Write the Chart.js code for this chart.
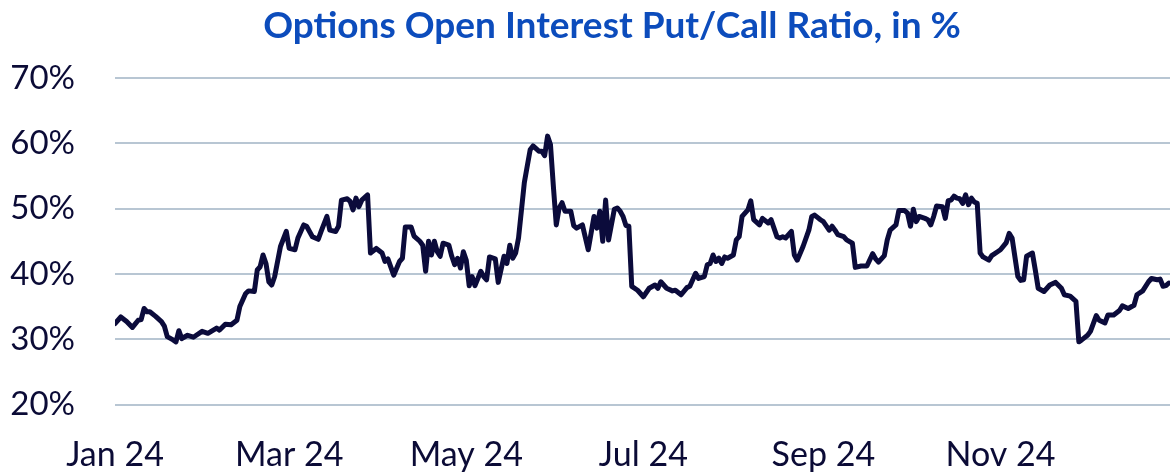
<!DOCTYPE html>
<html>
<head>
<meta charset="utf-8">
<script src="https://cdn.jsdelivr.net/npm/chart.js@4.4.1/dist/chart.umd.min.js"></script>
<style>
  html, body { margin: 0; padding: 0; background: #ffffff; }
  #wrap { width: 1170px; height: 474px; position: relative; }
</style>
</head>
<body>
<div id="wrap"><canvas id="c" width="1170" height="474"></canvas></div>
<script>
// Chart content
const chartTitle = 'Options Open Interest Put/Call Ratio, in %';
// day offsets from 1 Jan 2024
const dayOffsets = [0,2,4,6,8,9,10,11,12,14,16,17,18,20,21,22,23,25,27,28,30,32,35,36,38,40,42,43,45,46,48,49,50,51,52,53,54,55,57,59,60,62,63,65,66,68,70,71,73,74,76,77,78,80,81,82,83,84,85,87,88,90,92,93,94,96,98,99,100,102,103,105,106,107,108,109,110,111,112,113,115,116,117,118,119,120,121,122,123,124,126,127,128,129,131,132,134,135,136,137,138,139,141,142,143,144,146,147,148,149,150,151,152,153,154,155,157,158,159,161,163,165,166,167,168,169,170,172,173,174,175,176,177,178,180,182,184,186,187,188,190,192,193,195,197,198,200,201,203,204,205,206,207,208,209,210,211,213,214,215,216,217,218,219,220,222,223,225,226,228,229,230,231,233,234,235,237,239,240,241,243,244,246,247,248,249,251,252,254,255,257,259,261,262,263,265,266,267,269,270,272,273,274,275,276,277,279,280,281,282,283,285,286,287,288,289,290,291,292,293,294,295,296,297,298,299,301,302,304,305,307,308,309,311,312,313,314,316,317,318,320,322,324,326,327,329,331,332,333,335,336,338,339,341,342,344,346,347,349,351,352,354,356,357,359,360,361,362,363];
// put/call ratio, %
const putCallRatio = [32.4,33.4,32.7,31.8,32.9,33.0,34.7,34.2,34.2,33.5,32.7,32.0,30.4,29.9,29.6,31.3,30.1,30.6,30.3,30.6,31.2,30.9,31.7,31.4,32.3,32.2,32.9,35.0,37.0,37.4,37.3,40.6,41.1,42.9,41.6,38.8,38.3,39.6,44.2,46.5,43.9,43.7,45.5,47.5,47.3,45.7,45.3,46.5,48.8,46.7,46.5,47.3,51.3,51.5,51.1,49.8,51.6,50.3,51.3,52.1,43.2,43.9,43.2,41.9,42.3,39.8,41.9,42.4,47.2,47.2,45.8,45.0,44.4,40.4,45.0,42.9,45.0,43.4,42.7,44.7,44.4,42.7,41.4,42.4,40.9,43.4,42.1,38.2,39.6,38.2,40.4,39.6,39.1,42.6,42.3,38.7,42.7,41.6,44.4,42.4,43.2,45.5,54.0,56.5,59.0,59.6,58.8,58.8,58.1,61.1,59.8,53.4,47.5,50.1,50.9,49.6,49.6,47.4,47.0,47.5,43.7,48.8,47.0,49.6,45.0,51.3,45.2,49.9,50.1,49.6,48.8,47.4,47.3,38.1,37.5,36.5,37.8,38.3,37.8,38.8,37.8,37.4,37.5,36.8,37.9,38.1,40.1,39.3,39.6,41.4,41.6,42.9,41.9,42.4,41.6,42.6,42.4,42.9,45.2,45.7,48.8,49.3,49.8,51.2,48.3,47.5,48.5,47.8,48.3,45.7,45.5,45.7,45.5,46.5,42.9,42.1,44.2,46.7,48.8,49.0,48.3,48.0,46.7,47.3,46.7,46.0,45.7,45.2,44.7,41.0,41.2,41.2,43.1,42.3,41.8,42.8,45.2,46.7,47.5,49.7,49.7,49.3,47.3,49.9,48.0,48.8,48.5,48.3,47.5,48.8,50.4,50.3,48.5,51.2,51.3,51.9,51.6,51.5,50.8,52.1,50.6,51.6,51.0,50.8,43.2,42.6,42.1,42.8,43.4,43.7,44.8,46.2,45.5,39.6,39.0,39.1,42.7,43.2,40.6,37.8,37.3,38.3,38.7,37.8,36.8,36.6,35.8,29.6,29.9,30.6,31.2,33.6,32.9,32.5,33.7,33.7,34.4,35.1,34.7,35.2,36.8,37.4,38.8,39.3,39.1,39.2,38.1,38.2,38.6];
// x tick labels and their day offsets
const xTickDays = [0, 60, 121, 182, 244, 305];
const xTickLabels = ['Jan 24', 'Mar 24', 'May 24', 'Jul 24', 'Sep 24', 'Nov 24'];
const yTickValues = [20, 30, 40, 50, 60, 70];

const points = dayOffsets.map((d, i) => ({ x: d, y: putCallRatio[i] }));

const titlePlugin = {
  id: 'centerTitle',
  afterDraw(chart) {
    const ctx = chart.ctx;
    ctx.save();
    ctx.font = 'bold 37px Lato';
    ctx.fillStyle = '#0C4CBC';
    ctx.textAlign = 'center';
    ctx.textBaseline = 'alphabetic';
    ctx.fillText(chartTitle, 612, 38);
    ctx.restore();
  }
};

new Chart(document.getElementById('c'), {
  type: 'line',
  data: {
    datasets: [{
      data: points,
      borderColor: '#0B0B3B',
      borderWidth: 5,
      pointRadius: 0,
      tension: 0,
      borderJoinStyle: 'round',
      borderCapStyle: 'round',
      fill: false
    }]
  },
  options: {
    responsive: false,
    animation: false,
    events: [],
    layout: { padding: { top: 78, right: 0, bottom: 0, left: 0 } },
    plugins: { legend: { display: false }, tooltip: { enabled: false }, title: { display: false } },
    scales: {
      x: {
        type: 'linear',
        min: 0,
        max: 363.4,
        grid: { display: false, drawTicks: false },
        border: { display: false },
        afterBuildTicks: (s) => { s.ticks = xTickDays.map(v => ({ value: v })); },
        afterFit: (s) => { s.height = 69.5; },
        ticks: {
          autoSkip: false,
          maxRotation: 0,
          padding: 30,
          color: '#0B0B36',
          font: { family: 'Lato', size: 34 },
          callback: (v) => { const i = xTickDays.indexOf(v); return i >= 0 ? xTickLabels[i] : ''; }
        }
      },
      y: {
        min: 20,
        max: 70,
        afterBuildTicks: (s) => { s.ticks = yTickValues.map(v => ({ value: v })); },
        afterFit: (s) => { s.width = 115; },
        grid: { color: '#B8C6D3', lineWidth: 2, drawTicks: false },
        border: { display: false },
        ticks: {
          padding: 40,
          color: '#0B0B36',
          font: { family: 'Lato', size: 33 },
          callback: (v) => v + '%'
        }
      }
    }
  },
  plugins: [titlePlugin]
});
</script>
</body>
</html>
